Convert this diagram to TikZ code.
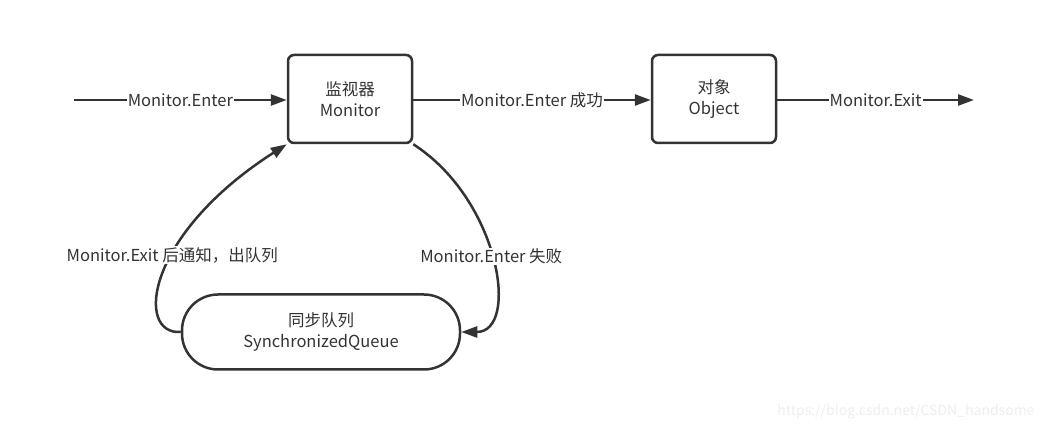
\documentclass[tikz,border=0pt]{standalone}
\usepackage{fontspec}
\setmainfont{Noto Sans CJK SC}
\usetikzlibrary{arrows.meta}
\definecolor{ink}{HTML}{333333}
\definecolor{wm}{HTML}{EEEEEE}
\begin{document}
\begin{tikzpicture}[x=1pt,y=-1pt,
  every node/.style={font=\fontsize{16.5}{21}\selectfont, text=ink},
  box/.style={draw=ink, line width=2.5pt, rounded corners=6pt, align=center, inner sep=0pt},
  conn/.style={draw=ink, line width=2.5pt, -{Triangle[length=16pt,width=11pt]}},
  lbl/.style={fill=white, inner sep=1pt}]
\useasboundingbox (0,0) rectangle (1050,430);
\node[box, minimum width=124pt, minimum height=88pt] (mon) at (350,99) {监视器\\Monitor};
\node[box, minimum width=124pt, minimum height=88pt] (obj) at (714,99) {对象\\Object};
\node[box, rounded corners=36pt, minimum width=278pt, minimum height=75pt] (q) at (321,332) {同步队列\\SynchronizedQueue};
\coordinate (start) at (74,100);
\coordinate (end) at (974,100);
\draw[conn] (start) -- node[lbl] {Monitor.Enter} (mon.west |- start);
\draw[conn] (mon.east |- start) -- node[lbl] {Monitor.Enter 成功} (obj.west |- start);
\draw[conn] (obj.east |- start) -- node[lbl] {Monitor.Exit} (end);
\draw[conn] (q.west) .. controls (135,335) and (145,235) .. node[lbl, pos=0.58] {Monitor.Exit 后通知，出队列} (mon.south west);
\draw[conn] (mon.south east) .. controls (500,200) and (520,332) .. node[lbl, pos=0.49] {Monitor.Enter 失败} (q.east);
\node[text=wm, font=\fontsize{14}{15}\selectfont, anchor=east] (wmark) at (1038,412) {https://blog.csdn.net/CSDN\_handsome};
\end{tikzpicture}
\end{document}
